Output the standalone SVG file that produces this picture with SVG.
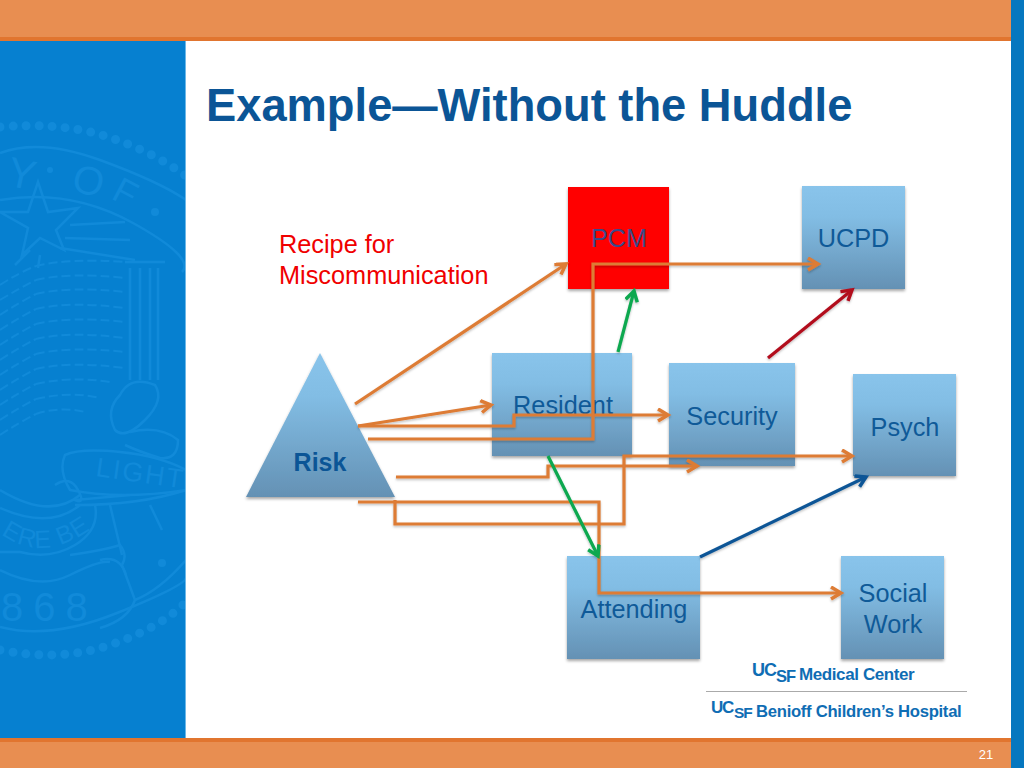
<svg xmlns="http://www.w3.org/2000/svg" width="1024" height="768" viewBox="0 0 1024 768">
<defs>
<linearGradient id="g" x1="0" y1="0" x2="0" y2="1"><stop offset="0" stop-color="#89c4eb"/><stop offset="0.3" stop-color="#82bde4"/><stop offset="1" stop-color="#6491b4"/></linearGradient>
<filter id="sh" x="-10%" y="-10%" width="120%" height="120%"><feDropShadow dx="0" dy="2" stdDeviation="1.5" flood-color="#000" flood-opacity="0.35"/></filter>
<filter id="ls" x="-5%" y="-5%" width="110%" height="110%"><feDropShadow dx="0" dy="1.5" stdDeviation="1" flood-color="#000" flood-opacity="0.25"/></filter>
<clipPath id="side"><rect x="0" y="41" width="185" height="697"/></clipPath>
<path id="ereArc" d="M1 534Q45 566 98 524"/>
<marker id="o" markerUnits="userSpaceOnUse" markerWidth="16" markerHeight="16" refX="12" refY="7" orient="auto"><path d="M2 1L12 7L2 13" fill="none" stroke="#dd7b35" stroke-width="3.5"/></marker>
<marker id="gr" markerUnits="userSpaceOnUse" markerWidth="16" markerHeight="16" refX="12" refY="7" orient="auto"><path d="M2 1L12 7L2 13" fill="none" stroke="#0aa84f" stroke-width="3.5"/></marker>
<marker id="r" markerUnits="userSpaceOnUse" markerWidth="16" markerHeight="16" refX="12" refY="7" orient="auto"><path d="M2 1L12 7L2 13" fill="none" stroke="#b20a1c" stroke-width="3.5"/></marker>
<marker id="b" markerUnits="userSpaceOnUse" markerWidth="16" markerHeight="16" refX="12" refY="7" orient="auto"><path d="M2 1L12 7L2 13" fill="none" stroke="#0b5596" stroke-width="3.5"/></marker>
</defs>
<style>
.n{fill:url(#g);filter:url(#sh)}
.t{font-family:"Liberation Sans",Arial,sans-serif;font-size:25.3px;fill:#0f5a98;text-anchor:middle}
.c{fill:none;stroke-width:3.2;stroke-linejoin:miter}
.or{stroke:#dd7b35}
.wm{fill:none;stroke:#118ad9;stroke-width:2.5}
.dots{fill:none;stroke:#118ad9;stroke-width:9;stroke-linecap:round;stroke-dasharray:0 13}
.hatch{fill:none;stroke:#118ad9;stroke-width:2;stroke-dasharray:9 4}
.wt{font-family:"Liberation Sans",Arial,sans-serif;fill:#118ad9}
.lg{font-family:"Liberation Sans",Arial,sans-serif;font-weight:bold;fill:#0f6db4}
</style>
<rect width="1024" height="768" fill="#fff"/>
<rect x="0" y="41" width="185" height="697" fill="#0680d0"/>
<rect x="185" y="41" width="1" height="697" fill="#6db8e8"/>
<rect x="1011" y="0" width="13" height="768" fill="#0677bf"/>
<rect x="0" y="0" width="1011" height="37" fill="#e88e51"/>
<rect x="0" y="37" width="1011" height="4" fill="#e1752f"/>
<g id="seal" clip-path="url(#side)">
<path class="dots" d="M0 127Q60 122 105 136T186 176"/>
<path class="dots" d="M0 650Q60 662 110 645T186 602"/>
<path class="wm" d="M0 153Q40 138 100 160T186 200"/>
<path class="wm" d="M0 200Q70 188 133 223T182 272"/>
<path class="wm" d="M0 627Q50 640 117 613T186 578"/>
<path class="wm" d="M38 182L48 212L78 208L56 230L64 250L40 238L22 255L28 228L0 212L28 212Z"/>
<path class="wm" d="M70 225L125 222M65 238L130 240M60 248L135 260M30 250L15 265M40 255L38 268"/>
<path class="hatch" d="M0 285Q20 272 36 266M0 300Q20 288 36 280M0 315Q20 302 36 294M0 330Q20 317 36 309M0 345Q20 332 36 324M0 360Q20 347 36 339M0 375Q20 362 36 354M0 390Q20 377 36 369M0 405Q20 392 36 384M0 420Q20 407 36 399M0 435Q20 422 36 414"/>
<path class="hatch" d="M36 266Q70 258 125 262M36 280Q70 272 125 278M36 294Q70 286 125 292M36 309Q70 301 125 308M36 324Q70 316 125 322M36 339Q70 331 125 338M36 354Q70 346 125 352M36 369Q70 361 125 368M36 384Q70 376 110 382M36 399Q70 391 100 398M36 414Q60 406 85 412"/>
<path class="wm" d="M130 268V380M140 268V380M150 268V380M158 268V380M125 262H165"/>
<path class="wm" d="M120 395Q130 375 155 385Q165 400 145 420T115 430Q105 410 120 395Z"/>
<path class="wm" d="M130 432Q160 425 178 440Q178 460 160 458Q140 452 125 445"/>
<path class="wm" d="M65 455Q80 448 120 452T186 470V490Q120 500 70 490Q58 470 65 455Z"/>
<path class="wm" d="M55 485Q70 475 78 490T75 500L130 495M75 505Q140 505 186 490"/>
<path class="wm" d="M0 490Q50 520 80 495M0 508Q50 530 80 505M95 505Q100 530 75 545T20 552H0M0 570Q40 590 70 575T110 562M70 555Q105 550 120 545Q128 555 122 565L135 600Q128 620 100 628"/>
<path class="wm" d="M110 505L122 555M150 505L162 530M135 600Q160 590 186 560M126 575Q120 555 100 560"/>
<circle cx="50" cy="170" r="3" fill="#118ad9"/><circle cx="155" cy="212" r="4" fill="#118ad9"/><circle cx="162" cy="563" r="4" fill="#118ad9"/>
<text class="wt" x="5" y="185" font-size="42" transform="rotate(12 5 185)">Y</text>
<text class="wt" x="70" y="190" font-size="40" transform="rotate(15 70 190)">O</text>
<text class="wt" x="110" y="198" font-size="36" transform="rotate(28 110 198)">F</text>
<text class="wt" x="95" y="476" font-size="27" letter-spacing="2" transform="rotate(8 95 476)">LIGHT</text>
<text class="wt" font-size="25" letter-spacing="1"><textPath href="#ereArc">ERE BE</textPath></text>
<text class="wt" x="1" y="621" font-size="40" letter-spacing="10">868</text>
</g>
<text id="title" x="206" y="121" font-family="'Liberation Sans',Arial,sans-serif" font-size="45.3" font-weight="bold" fill="#0b5596">Example—Without the Huddle</text>
<g id="note" font-family="'Liberation Sans',Arial,sans-serif" font-size="25.3" fill="#f00000"><text x="279" y="253">Recipe for</text><text x="279" y="284">Miscommunication</text></g>
<g id="pcm"><rect x="568" y="187" width="101" height="102" fill="#ff0000" filter="url(#sh)"/><text class="t" x="619" y="247" style="fill:#3a4a8a">PCM</text></g>
<g id="ucpd"><rect class="n" x="802" y="186" width="103" height="103"/><text class="t" x="853.500" y="247">UCPD</text></g>
<g id="resident"><rect class="n" x="492" y="353" width="140" height="103"/><text class="t" x="563" y="414">Resident</text></g>
<g id="security"><rect class="n" x="669" y="363" width="126" height="103"/><text class="t" x="732" y="425">Security</text></g>
<g id="psych"><rect class="n" x="853" y="374" width="103" height="102"/><text class="t" x="905" y="436">Psych</text></g>
<g id="attending"><rect class="n" x="567" y="556" width="133" height="103"/><text class="t" x="634" y="618">Attending</text></g>
<g id="social"><rect class="n" x="841" y="556" width="103" height="103"/><text class="t" x="893" y="602">Social</text><text class="t" x="893" y="633">Work</text></g>
<g id="risk"><path class="n" d="M320 353L395 497H246Z"/><text x="320" y="471" font-family="'Liberation Sans',Arial,sans-serif" font-size="25" font-weight="bold" fill="#0b5596" text-anchor="middle">Risk</text></g>
<g id="connectors" filter="url(#ls)">
<path class="c or" marker-end="url(#o)" d="M355 404L566 264"/>
<path class="c or" marker-end="url(#o)" d="M358 426L491 405"/>
<path class="c or" marker-end="url(#o)" d="M358 426H514V415H668"/>
<path class="c or" marker-end="url(#o)" d="M368 439H593V264H818"/>
<path class="c or" marker-end="url(#o)" d="M396 477H548V466H697"/>
<path class="c or" marker-end="url(#o)" d="M395 500V524H624V456H852"/>
<path class="c or" marker-end="url(#o)" d="M358 502H599V593H841"/>
<path class="c" stroke="#0aa84f" marker-end="url(#gr)" d="M618 352L634 291"/>
<path class="c" stroke="#0aa84f" marker-end="url(#gr)" d="M548 456L598 556"/>
<path class="c" stroke="#b20a1c" marker-end="url(#r)" d="M768 358L852 290"/>
<path class="c" stroke="#0b5596" marker-end="url(#b)" d="M700 557L866 477"/>
</g>
<g id="logos">
<text class="lg" x="752" y="676" font-size="18" letter-spacing="-1">UC</text><text class="lg" x="776" y="682" font-size="16.5" letter-spacing="-1">SF</text><text class="lg" x="799" y="680" font-size="17" letter-spacing="-.4">Medical Center</text>
<rect x="706" y="691" width="261" height="1" fill="#aaa"/>
<text class="lg" x="711" y="713" font-size="17" letter-spacing="-1.2">UC</text><text class="lg" x="734" y="718" font-size="15.5" letter-spacing="-1">SF</text><text class="lg" x="756" y="717" font-size="16.7" letter-spacing="-.3">Benioff Children’s Hospital</text>
</g>
<rect x="0" y="738" width="1011" height="4" fill="#e1752f"/>
<rect x="0" y="742" width="1011" height="26" fill="#e88e51"/>
<text x="986" y="759" font-family="'Liberation Sans',Arial,sans-serif" font-size="13" fill="#fff" text-anchor="middle">21</text>
</svg>
